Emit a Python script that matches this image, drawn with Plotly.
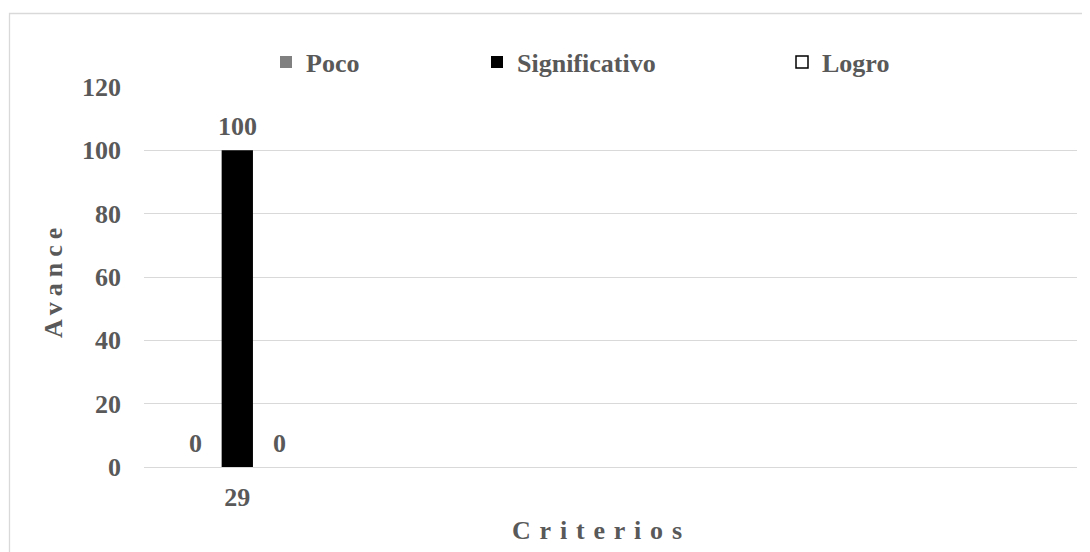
import plotly.graph_objects as go

categories = ["29"]
series_names = ["Poco", "Significativo", "Logro"]
poco = [0]
significativo = [100]
logro = [0]
y_ticks = [0, 20, 40, 60, 80, 100, 120]

colors = ["#808080", "#000000", "#ffffff"]
series_values = [poco, significativo, logro]

FONT = "Liberation Serif"
TXT = "#595959"

# page body has an 8px margin: design in screen pixels, convert
OFF = 8
W, H = 1090 - OFF, 552 - OFF
PL, PR, PT, PB = 144, 1077, 87, 467   # plot area in screen pixels
ML, MT = PL - OFF, PT - OFF
MR, MB = W - (PR - OFF), H - (PB - OFF)
PW, PH = PR - PL, PB - PT

def px_x(p):
    return (p - PL) / PW

def px_y(p):
    return (PB - p) / PH

bold = dict(family=FONT, size=26, color=TXT, weight="bold")

fig = go.Figure()
legend_names = ["legend", "legend2", "legend3"]
groups = ["g0", "g1", "g2"]
for i, (name, vals) in enumerate(zip(series_names, series_values)):
    fig.add_trace(go.Bar(
        x=categories, y=vals, name=name, offsetgroup=groups[i],
        marker=dict(color=colors[i], line=dict(width=0)),
        legend=legend_names[i], showlegend=(i != 2),
    ))
# legend entry for the outlined white series (no data of its own)
fig.add_trace(go.Bar(
    x=categories, y=[None] * len(categories), name=series_names[2], offsetgroup=groups[2],
    marker=dict(color=colors[2], line=dict(color="#000000", width=1.5)),
    legend=legend_names[2], hoverinfo="skip",
))

n_cat_slots = 5
bargap, bargroupgap = 0.32, 0.26
slot_px = PW / n_cat_slots * (1 - bargap) / len(series_names)
annotations = []
for i, vals in enumerate(series_values):
    for ci, v in enumerate(vals):
        annotations.append(dict(
            x=ci, y=v, xref="x", yref="y", text=str(v), showarrow=False,
            xshift=(i - 1) * slot_px, yshift=24, yanchor="middle", font=bold))

annotations.append(dict(
    x=px_x(601), y=px_y(530), xref="paper", yref="paper", showarrow=False,
    text="<span style='letter-spacing:8.8px'>Criterios</span>",
    xanchor="center", yanchor="middle", font=bold))
annotations.append(dict(
    x=px_x(53), y=px_y(280), xref="paper", yref="paper", showarrow=False,
    text="<span style='letter-spacing:6px'>Avance</span>", textangle=-90,
    xanchor="center", yanchor="middle", font=bold))

legend_text_px = [306, 517, 822]
legend_common = dict(orientation="h", yanchor="middle", xanchor="left",
                     y=px_y(62), bgcolor="rgba(0,0,0,0)", font=bold)
layout_legends = {}
for lname, tx in zip(legend_names, legend_text_px):
    layout_legends[lname] = dict(x=px_x(tx - 40), **legend_common)

fig.update_layout(
    width=W, height=H,
    margin=dict(l=ML, r=MR, t=MT, b=MB),
    paper_bgcolor="white", plot_bgcolor="white",
    barmode="group", bargap=bargap, bargroupgap=bargroupgap,
    showlegend=True,
    annotations=annotations,
    shapes=[dict(type="rect", xref="paper", yref="paper",
                 x0=px_x(9.5), x1=px_x(1120), y0=px_y(600), y1=px_y(13.5),
                 line=dict(color="#d9d9d9", width=1.3), layer="below")],
    font=bold,
    **layout_legends,
)
fig.update_xaxes(type="category", range=[-0.5, n_cat_slots - 0.5], showgrid=False,
                 showline=False, ticks="", ticklabelstandoff=12, tickfont=bold)
fig.update_yaxes(range=[0, 120], tickvals=y_ticks,
                 showgrid=True, gridcolor="#d9d9d9", gridwidth=1.3,
                 zeroline=True, zerolinecolor="#d9d9d9", zerolinewidth=1.3,
                 showline=False, ticks="", ticklabelstandoff=22, tickfont=bold)

fig.write_html("out.html")
